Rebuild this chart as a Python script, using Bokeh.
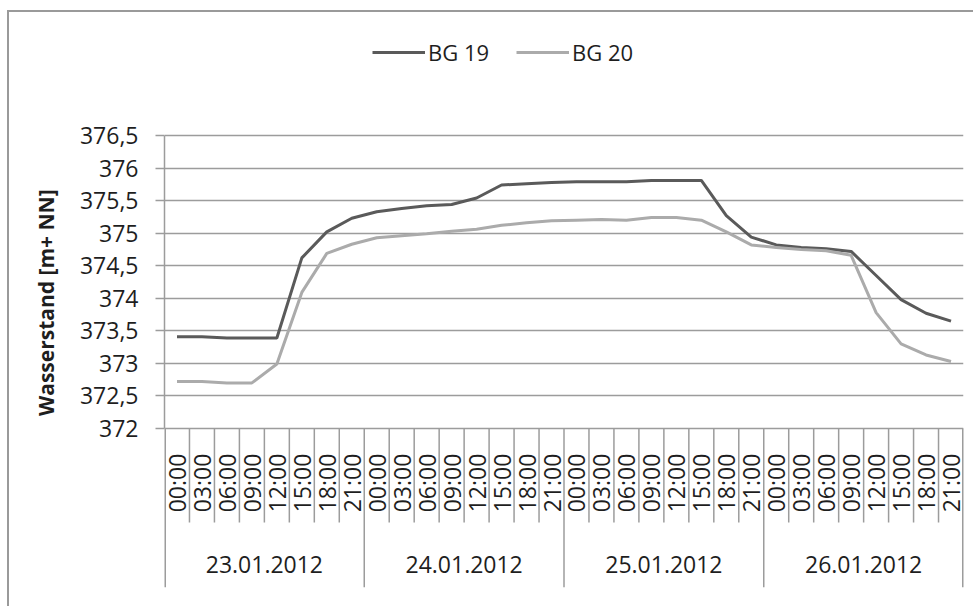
import math
from bokeh.plotting import figure
from bokeh.models import Range1d, FixedTicker, Legend, LegendItem
from bokeh.core.properties import value
from bokeh.embed import file_html
from bokeh.resources import INLINE

# ---------------- data ----------------
DAYS = ["23.01.2012", "24.01.2012", "25.01.2012", "26.01.2012"]
TIMES = ["00:00", "03:00", "06:00", "09:00", "12:00", "15:00", "18:00", "21:00"]

BG19 = [373.41, 373.41, 373.39, 373.39, 373.39, 374.62, 375.02, 375.23,
        375.33, 375.38, 375.42, 375.44, 375.54, 375.74, 375.76, 375.78,
        375.79, 375.79, 375.79, 375.81, 375.81, 375.81, 375.27, 374.94,
        374.82, 374.78, 374.76, 374.72, 374.35, 373.98, 373.77, 373.65]
BG20 = [372.72, 372.72, 372.70, 372.70, 372.99, 374.09, 374.69, 374.83,
        374.93, 374.96, 374.99, 375.03, 375.06, 375.12, 375.16, 375.19,
        375.20, 375.21, 375.20, 375.24, 375.24, 375.20, 375.02, 374.82,
        374.78, 374.75, 374.73, 374.66, 373.78, 373.30, 373.13, 373.03]

Y_TICKS = [372, 372.5, 373, 373.5, 374, 374.5, 375, 375.5, 376, 376.5]
Y_TICK_LABELS = ["372", "372,5", "373", "373,5", "374", "374,5",
                 "375", "375,5", "376", "376,5"]

# ---------------- layout constants (pixels, canvas coords) ----------------
W, H = 966, 596
FRAME_LEFT, FRAME_RIGHT = 155, 954
FRAME_BOTTOM = 575
PLOT_TOP, PLOT_BOTTOM = 123, 416          # pixel rows of 376.5 and 372
Y_MIN, Y_MAX = Y_TICKS[0], Y_TICKS[-1]
PX = (PLOT_BOTTOM - PLOT_TOP) / (Y_MAX - Y_MIN)
y_end = Y_MAX + PLOT_TOP / PX
y_start = Y_MIN - (FRAME_BOTTOM - PLOT_BOTTOM) / PX

GRID = "#9c9c9c"
TXT = "#1e1e1e"
C19 = "#5a5a5a"
C20 = "#ababab"
FONT = "Open Sans"

n_t = len(TIMES)
n = len(DAYS) * n_t
X = [i + 0.5 for i in range(n)]

p = figure(width=W, height=H, output_backend="svg", toolbar_location=None,
           x_range=Range1d(0, n), y_range=Range1d(y_start, y_end),
           x_axis_location=None,
           min_border_left=FRAME_LEFT, min_border_right=W - FRAME_RIGHT,
           min_border_top=0, min_border_bottom=H - FRAME_BOTTOM)
p.outline_line_color = None
p.background_fill_color = "white"
p.border_fill_color = "white"
p.styles = {"border-top": "2px solid #9a9a9a", "border-left": "2px solid #9a9a9a",
            "margin-top": "10px", "margin-left": "7px"}

# y axis
yax = p.yaxis[0]
yax.ticker = FixedTicker(ticks=Y_TICKS, minor_ticks=[])
yax.major_label_overrides = dict(zip(Y_TICKS, Y_TICK_LABELS))
yax.bounds = (Y_MIN, Y_MAX)
yax.major_tick_out = 9
yax.major_tick_in = 0
yax.minor_tick_out = 0
yax.minor_tick_in = 0
yax.major_tick_line_color = GRID
yax.major_tick_line_width = 1.5
yax.axis_line_color = GRID
yax.axis_line_width = 1.5
yax.major_label_standoff = 17
yax.major_label_text_font = FONT
yax.major_label_text_font_size = "23px"
yax.major_label_text_color = TXT
yax.axis_label = "Wasserstand  [m+ NN]"
yax.axis_label_text_font = FONT
yax.axis_label_text_font_style = "bold"
yax.axis_label_text_font_size = "21px"
yax.axis_label_text_color = TXT
yax.axis_label_standoff = 17

p.xgrid.visible = False
p.ygrid.ticker = FixedTicker(ticks=Y_TICKS)
p.ygrid.grid_line_color = GRID
p.ygrid.grid_line_width = 1.5

# category axis (drawn through the data scales)
bounds_x = list(range(n + 1))
inner = [k for k in bounds_x if k % n_t != 0]
groups = [k for k in bounds_x if k % n_t == 0 and 0 < k < n]
edges = [0, n]
p.segment(x0=inner, y0=[Y_MIN] * len(inner), x1=inner,
          y1=[Y_MIN - 94 / PX] * len(inner), line_color=GRID, line_width=1.5)
p.segment(x0=groups, y0=[Y_MIN] * len(groups), x1=groups,
          y1=[y_start] * len(groups), line_color=GRID, line_width=1.5)
p.segment(x0=edges, y0=[Y_MIN] * len(edges), x1=edges,
          y1=[y_start] * len(edges), line_color=GRID, line_width=3)

p.text(x=X, y=[Y_MIN - 54.5 / PX] * n, text=TIMES * len(DAYS), angle=math.pi / 2,
       text_align="center", text_baseline="middle", text_font=value(FONT),
       text_font_size="23px", text_color=TXT)
p.text(x=[d * n_t + n_t / 2 for d in range(len(DAYS))], y=[Y_MIN - 136 / PX] * len(DAYS),
       text=DAYS, text_align="center", text_baseline="middle", text_font=value(FONT),
       text_font_size="23px", text_color=TXT)

# series
r19 = p.line(X, BG19, line_color=C19, line_width=3)
r20 = p.line(X, BG20, line_color=C20, line_width=3)

legend = Legend(items=[LegendItem(label=value("BG 19"), renderers=[r19]),
                       LegendItem(label=value("BG 20"), renderers=[r20])],
                location=(208, 520), orientation="horizontal",
                glyph_width=53, glyph_height=26, label_height=26, label_standoff=3,
                spacing=27, padding=0, margin=0, border_line_color=None,
                background_fill_alpha=0, label_text_font=FONT,
                label_text_font_size="22px", label_text_color=TXT)
p.add_layout(legend)

open("out.html", "w").write(file_html(p, INLINE))
